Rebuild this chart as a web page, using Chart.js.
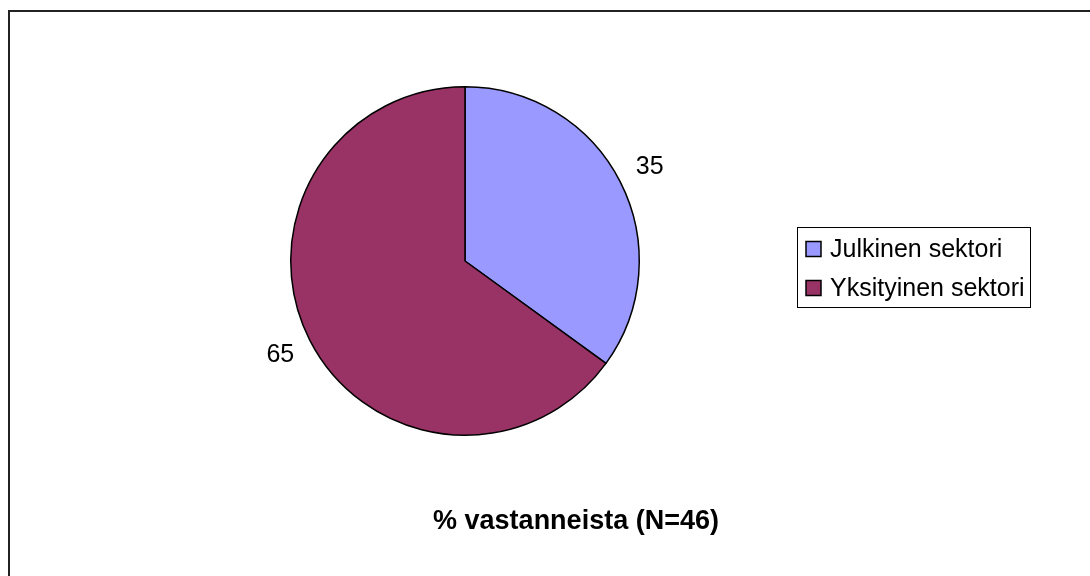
<!DOCTYPE html>
<html>
<head>
<meta charset="utf-8">
<script src="https://cdn.jsdelivr.net/npm/chart.js@4.4.0/dist/chart.umd.min.js"></script>
<style>
  html, body { margin: 0; padding: 0; background: #fff; }
  #wrap { position: relative; width: 1090px; height: 576px; }
</style>
</head>
<body>
<div id="wrap"><canvas id="c" width="1090" height="576"></canvas></div>
<script>
const categories = ["Julkinen sektori", "Yksityinen sektori"];
const values = [35, 65];
const colors = ["#9999FF", "#993366"];
const titleText = "% vastanneista (N=46)";
const FONT = '"Liberation Sans", Arial, sans-serif';

const decorPlugin = {
  id: 'decor',
  beforeDraw(chart) {
    const ctx = chart.ctx;
    ctx.save();
    ctx.fillStyle = '#fff';
    ctx.fillRect(0, 0, chart.width, chart.height);
    ctx.strokeStyle = '#222';
    ctx.lineWidth = 2;
    ctx.beginPath();
    ctx.moveTo(9, chart.height + 2);
    ctx.lineTo(9, 11);
    ctx.lineTo(chart.width + 2, 11);
    ctx.stroke();
    ctx.restore();
  },
  afterDraw(chart) {
    const ctx = chart.ctx;
    const meta = chart.getDatasetMeta(0);
    ctx.save();
    // value labels
    ctx.fillStyle = '#000';
    ctx.font = '25px ' + FONT;
    ctx.textAlign = 'center';
    ctx.textBaseline = 'middle';
    meta.data.forEach((arc, i) => {
      const p = arc.getProps(['x', 'y', 'startAngle', 'endAngle', 'outerRadius'], true);
      const mid = (p.startAngle + p.endAngle) / 2;
      const r = p.outerRadius + 33;
      ctx.fillText(String(chart.data.datasets[0].data[i]), p.x + Math.cos(mid) * r, p.y + Math.sin(mid) * r);
    });
    // legend
    const lx = 797, ly = 227, lw = 233, lh = 80;
    ctx.strokeStyle = '#000';
    ctx.lineWidth = 1;
    ctx.strokeRect(lx + 0.5, ly + 0.5, lw, lh);
    ctx.font = '25px ' + FONT;
    ctx.textAlign = 'left';
    ctx.textBaseline = 'middle';
    chart.data.labels.forEach((lab, i) => {
      const cy = 249.5 + i * 39;
      ctx.fillStyle = chart.data.datasets[0].backgroundColor[i];
      ctx.fillRect(806, cy - 8, 15, 15);
      ctx.strokeStyle = '#000';
      ctx.lineWidth = 1.5;
      ctx.strokeRect(806, cy - 8, 15, 15);
      ctx.fillStyle = '#000';
      ctx.fillText(lab, 830, cy + 1);
    });
    // title
    ctx.font = 'bold 27px ' + FONT;
    ctx.textAlign = 'center';
    ctx.textBaseline = 'alphabetic';
    ctx.fillText(titleText, 576, 529);
    ctx.restore();
  }
};

new Chart(document.getElementById('c'), {
  type: 'pie',
  data: {
    labels: categories,
    datasets: [{
      data: values,
      backgroundColor: colors,
      borderColor: '#000',
      borderWidth: 1.5,
      borderAlign: 'center'
    }]
  },
  options: {
    responsive: false,
    animation: false,
    devicePixelRatio: 1,
    layout: { padding: { left: 290, right: 450, top: 86, bottom: 140 } },
    plugins: {
      legend: { display: false },
      tooltip: { enabled: false },
      title: { display: false }
    }
  },
  plugins: [decorPlugin]
});
</script>
</body>
</html>
